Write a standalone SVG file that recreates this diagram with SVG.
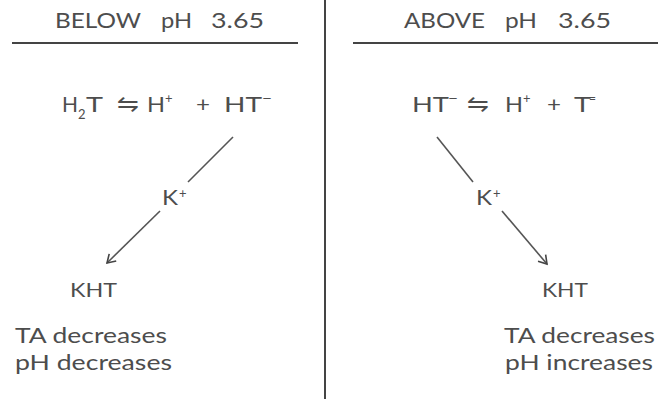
<svg xmlns="http://www.w3.org/2000/svg" width="658" height="399" viewBox="0 0 658 399">
<style>
  text { font-family: Lato, "DejaVu Sans", sans-serif; fill: #4d4d4d; }
  .hd { font-size: 22px; }
  .eq { font-size: 21px; }
  .arw { font-size: 24px; }
  .sup { font-size: 13px; }
  .k { font-size: 22px; }
  .kht { font-size: 20px; }
  .res { font-size: 22px; }
  .rule { stroke: #444; stroke-width: 2; fill: none; }
  .conn { stroke: #555; stroke-width: 1.6; fill: none; }
</style>
<defs>
  <marker id="arr" markerWidth="12" markerHeight="12" refX="10" refY="6" orient="auto" markerUnits="userSpaceOnUse">
    <path d="M2,1 L10,6 L2,11" fill="none" stroke="#444" stroke-width="1.6"/>
  </marker>
</defs>
<rect width="658" height="399" fill="#fff"/>
<g id="dividers">
  <line class="rule" x1="325" y1="0" x2="325" y2="399"/>
  <line class="rule" x1="12" y1="43" x2="298" y2="43"/>
  <line class="rule" x1="353" y1="43" x2="658" y2="43"/>
</g>
<g id="header-left">
  <text class="hd" y="28"><tspan x="55" textLength="86" lengthAdjust="spacingAndGlyphs">BELOW</tspan><tspan x="161" textLength="31" lengthAdjust="spacingAndGlyphs">pH</tspan><tspan x="211" textLength="53" lengthAdjust="spacingAndGlyphs">3.65</tspan></text>
</g>
<g id="header-right">
  <text class="hd" y="28"><tspan x="404" textLength="81" lengthAdjust="spacingAndGlyphs">ABOVE</tspan><tspan x="505" textLength="32" lengthAdjust="spacingAndGlyphs">pH</tspan><tspan x="558" textLength="53" lengthAdjust="spacingAndGlyphs">3.65</tspan></text>
</g>
<g id="equation-left">
  <text class="eq" x="62" y="112" textLength="16" lengthAdjust="spacingAndGlyphs">H</text>
  <text class="sup" x="78" y="119">2</text>
  <text class="eq" x="86" y="112" textLength="17" lengthAdjust="spacingAndGlyphs">T</text>
  <text class="arw" x="117" y="112" textLength="22" lengthAdjust="spacingAndGlyphs">⇋</text>
  <text class="eq" x="147" y="112" textLength="18" lengthAdjust="spacingAndGlyphs">H</text>
  <text class="sup" x="165" y="103">+</text>
  <text class="eq" x="196" y="112" textLength="14" lengthAdjust="spacingAndGlyphs">+</text>
  <text class="eq" x="224" y="112" textLength="38" lengthAdjust="spacingAndGlyphs">HT</text>
  <text class="sup" x="262" y="103" textLength="10" lengthAdjust="spacingAndGlyphs">−</text>
</g>
<g id="equation-right">
  <text class="eq" x="412" y="112" textLength="37" lengthAdjust="spacingAndGlyphs">HT</text>
  <text class="sup" x="448" y="103" textLength="10" lengthAdjust="spacingAndGlyphs">−</text>
  <text class="arw" x="467" y="112" textLength="22" lengthAdjust="spacingAndGlyphs">⇋</text>
  <text class="eq" x="505" y="112" textLength="18" lengthAdjust="spacingAndGlyphs">H</text>
  <text class="sup" x="523" y="103">+</text>
  <text class="eq" x="547" y="112" textLength="14" lengthAdjust="spacingAndGlyphs">+</text>
  <text class="eq" x="574" y="112" textLength="17" lengthAdjust="spacingAndGlyphs">T</text>
  <text class="sup" x="589" y="103" textLength="7" lengthAdjust="spacingAndGlyphs">=</text>
</g>
<g id="k-left">
  <text class="k" x="162" y="205" textLength="16" lengthAdjust="spacingAndGlyphs">K</text>
  <text class="sup" x="179" y="198">+</text>
</g>
<g id="k-right">
  <text class="k" x="476" y="205" textLength="16" lengthAdjust="spacingAndGlyphs">K</text>
  <text class="sup" x="493" y="198">+</text>
</g>
<g id="connectors">
  <line class="conn" x1="233" y1="137" x2="188" y2="182"/>
  <line class="conn" x1="160" y1="211" x2="107" y2="263" marker-end="url(#arr)"/>
  <line class="conn" x1="437" y1="137" x2="473" y2="182"/>
  <line class="conn" x1="502" y1="211" x2="547" y2="264" marker-end="url(#arr)"/>
</g>
<g id="result-left">
  <text class="kht" x="70" y="297" textLength="47" lengthAdjust="spacingAndGlyphs">KHT</text>
  <text class="res" x="15" y="343" textLength="152" lengthAdjust="spacingAndGlyphs">TA decreases</text>
  <text class="res" x="15" y="370" textLength="157" lengthAdjust="spacingAndGlyphs">pH decreases</text>
</g>
<g id="result-right">
  <text class="kht" x="542" y="297" textLength="46" lengthAdjust="spacingAndGlyphs">KHT</text>
  <text class="res" x="504" y="343" textLength="151" lengthAdjust="spacingAndGlyphs">TA decreases</text>
  <text class="res" x="505" y="370" textLength="148" lengthAdjust="spacingAndGlyphs">pH increases</text>
</g>
</svg>
